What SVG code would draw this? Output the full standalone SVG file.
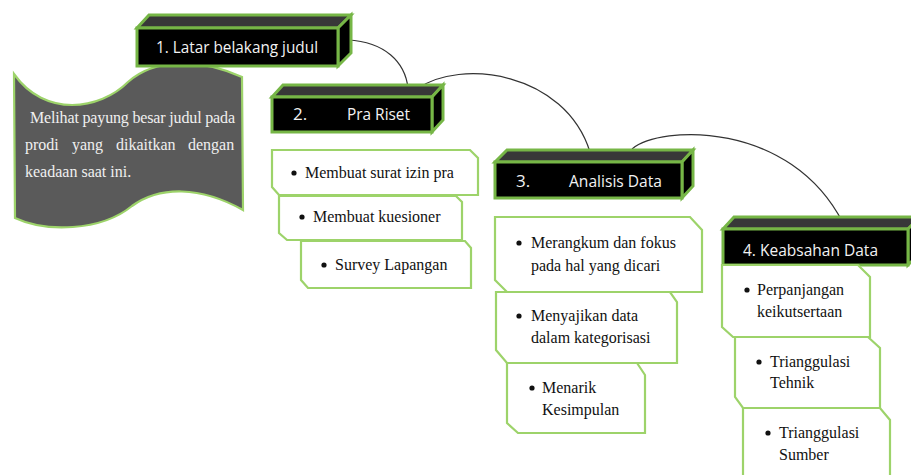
<svg xmlns="http://www.w3.org/2000/svg" width="911" height="475" viewBox="0 0 911 475">
  <style>
    .front { fill: #000; stroke: #76b646; stroke-width: 3; stroke-linejoin: miter; }
    .top { fill: #383838; stroke: #76b646; stroke-width: 3; stroke-linejoin: miter; }
    .side { fill: #000; stroke: #76b646; stroke-width: 3; stroke-linejoin: miter; }
    .lbl { font-family: "Open Sans", "Liberation Sans", sans-serif; font-size: 17px; fill: #f2f2f2; }
    .item { fill: #fff; stroke: #9dd36a; stroke-width: 2.2; stroke-linejoin: miter; }
    .txt { font-family: "Liberation Serif", "Times New Roman", serif; font-size: 16px; fill: #111; }
    .bul { fill: #111; }
    .scrolltxt { font-family: "Liberation Serif", "Times New Roman", serif; font-size: 16px; fill: #f0f0f0; }
    .conn { fill: none; stroke: #333; stroke-width: 1.2; }
  </style>

  <g id="scroll">
    <path d="M14,74 C 45,118 100,110 128,82 C 155,58 200,58 242,77 L243,210 C 200,186 160,186 132,206 C 100,232 45,232 15,218 Z" fill="#5a5a5a" stroke="#9dd36a" stroke-width="2.2"/>
    <text class="scrolltxt" x="30" y="123" textLength="205" lengthAdjust="spacing">Melihat payung besar judul pada</text>
    <text class="scrolltxt" y="150"><tspan x="25">prodi</tspan><tspan x="72">yang</tspan><tspan x="116">dikaitkan</tspan><tspan x="188">dengan</tspan></text>
    <text class="scrolltxt" x="25" y="177">keadaan saat ini.</text>
  </g>

  <g id="connectors">
    <path class="conn" d="M348,40 C 385,42 405,62 408,88"/>
    <path class="conn" d="M417,89 C 460,58 565,72 590,152"/>
    <path class="conn" d="M632,149 C 660,125 790,120 843,223"/>
  </g>

  <g id="box1">
    <polygon class="top" points="137,28 149,15 351,15 338,28"/>
    <polygon class="side" points="338,28 351,15 351,53 338,66"/>
    <rect class="front" x="137" y="28" width="201" height="38"/>
    <text class="lbl" x="156" y="53" textLength="162" lengthAdjust="spacingAndGlyphs">1. Latar belakang judul</text>
  </g>

  <g id="box2">
    <polygon class="top" points="272,97 283,85 443,85 432,97"/>
    <polygon class="side" points="432,97 443,85 443,120 432,132"/>
    <rect class="front" x="272" y="97" width="160" height="35"/>
    <text class="lbl" x="293" y="120">2.</text>
    <text class="lbl" x="347" y="120" textLength="63" lengthAdjust="spacingAndGlyphs">Pra Riset</text>
  </g>

  <g id="box3">
    <polygon class="top" points="495,162 507,150 693,150 682,162"/>
    <polygon class="side" points="682,162 693,150 693,186 682,198"/>
    <rect class="front" x="495" y="162" width="187" height="36"/>
    <text class="lbl" x="516" y="187">3.</text>
    <text class="lbl" x="569" y="187" textLength="93" lengthAdjust="spacingAndGlyphs">Analisis Data</text>
  </g>

  <g id="box4">
    <polygon class="top" points="723,229 734,217 920,217 908,229"/>
    <polygon class="side" points="908,229 920,217 920,253 908,265"/>
    <rect class="front" x="723" y="229" width="185" height="36"/>
    <text class="lbl" x="743" y="256" textLength="135" lengthAdjust="spacingAndGlyphs">4. Keabsahan Data</text>
  </g>

  <g id="item2a">
    <polygon class="item" points="272,150 470,150 478,158 478,195 279,195 272,187"/>
    <circle class="bul" cx="294" cy="173" r="2.6"/>
    <text class="txt" x="305" y="178">Membuat surat izin pra</text>
  </g>
  <g id="item2b">
    <polygon class="item" points="279,196 456,196 462,202 462,240 287,240 279,233"/>
    <circle class="bul" cx="302" cy="217" r="2.6"/>
    <text class="txt" x="313" y="222">Membuat kuesioner</text>
  </g>
  <g id="item2c">
    <polygon class="item" points="301,241 465,241 471,248 471,288 308,288 301,280"/>
    <circle class="bul" cx="324" cy="265" r="2.6"/>
    <text class="txt" x="335" y="270">Survey Lapangan</text>
  </g>

  <g id="item3a">
    <polygon class="item" points="495,217 690,217 702,230 702,292 507,292 495,280"/>
    <circle class="bul" cx="519" cy="243" r="2.6"/>
    <text class="txt" x="531" y="248">Merangkum dan fokus</text>
    <text class="txt" x="531" y="271">pada hal yang dicari</text>
  </g>
  <g id="item3b">
    <polygon class="item" points="496,292 670,292 677,302 677,363 507,363 496,350"/>
    <circle class="bul" cx="519" cy="316" r="2.6"/>
    <text class="txt" x="531" y="321">Menyajikan data</text>
    <text class="txt" x="531" y="343">dalam kategorisasi</text>
  </g>
  <g id="item3c">
    <polygon class="item" points="507,363 637,363 645,375 645,433 518,433 507,423"/>
    <circle class="bul" cx="532" cy="388" r="2.6"/>
    <text class="txt" x="542" y="393">Menarik</text>
    <text class="txt" x="542" y="415">Kesimpulan</text>
  </g>

  <g id="item4a">
    <polygon class="item" points="722,265 858,265 870,277 870,337 733,337 722,327"/>
    <circle class="bul" cx="747" cy="290" r="2.6"/>
    <text class="txt" x="757" y="295">Perpanjangan</text>
    <text class="txt" x="757" y="317">keikutsertaan</text>
  </g>
  <g id="item4b">
    <polygon class="item" points="735,337 868,337 880,348 880,408 743,408 735,397"/>
    <circle class="bul" cx="759" cy="362" r="2.6"/>
    <text class="txt" x="770" y="367">Trianggulasi</text>
    <text class="txt" x="770" y="388">Tehnik</text>
  </g>
  <g id="item4c">
    <polygon class="item" points="743,408 880,408 890,420 890,480 743,480"/>
    <circle class="bul" cx="768" cy="433" r="2.6"/>
    <text class="txt" x="779" y="438">Trianggulasi</text>
    <text class="txt" x="779" y="460">Sumber</text>
  </g>
</svg>
